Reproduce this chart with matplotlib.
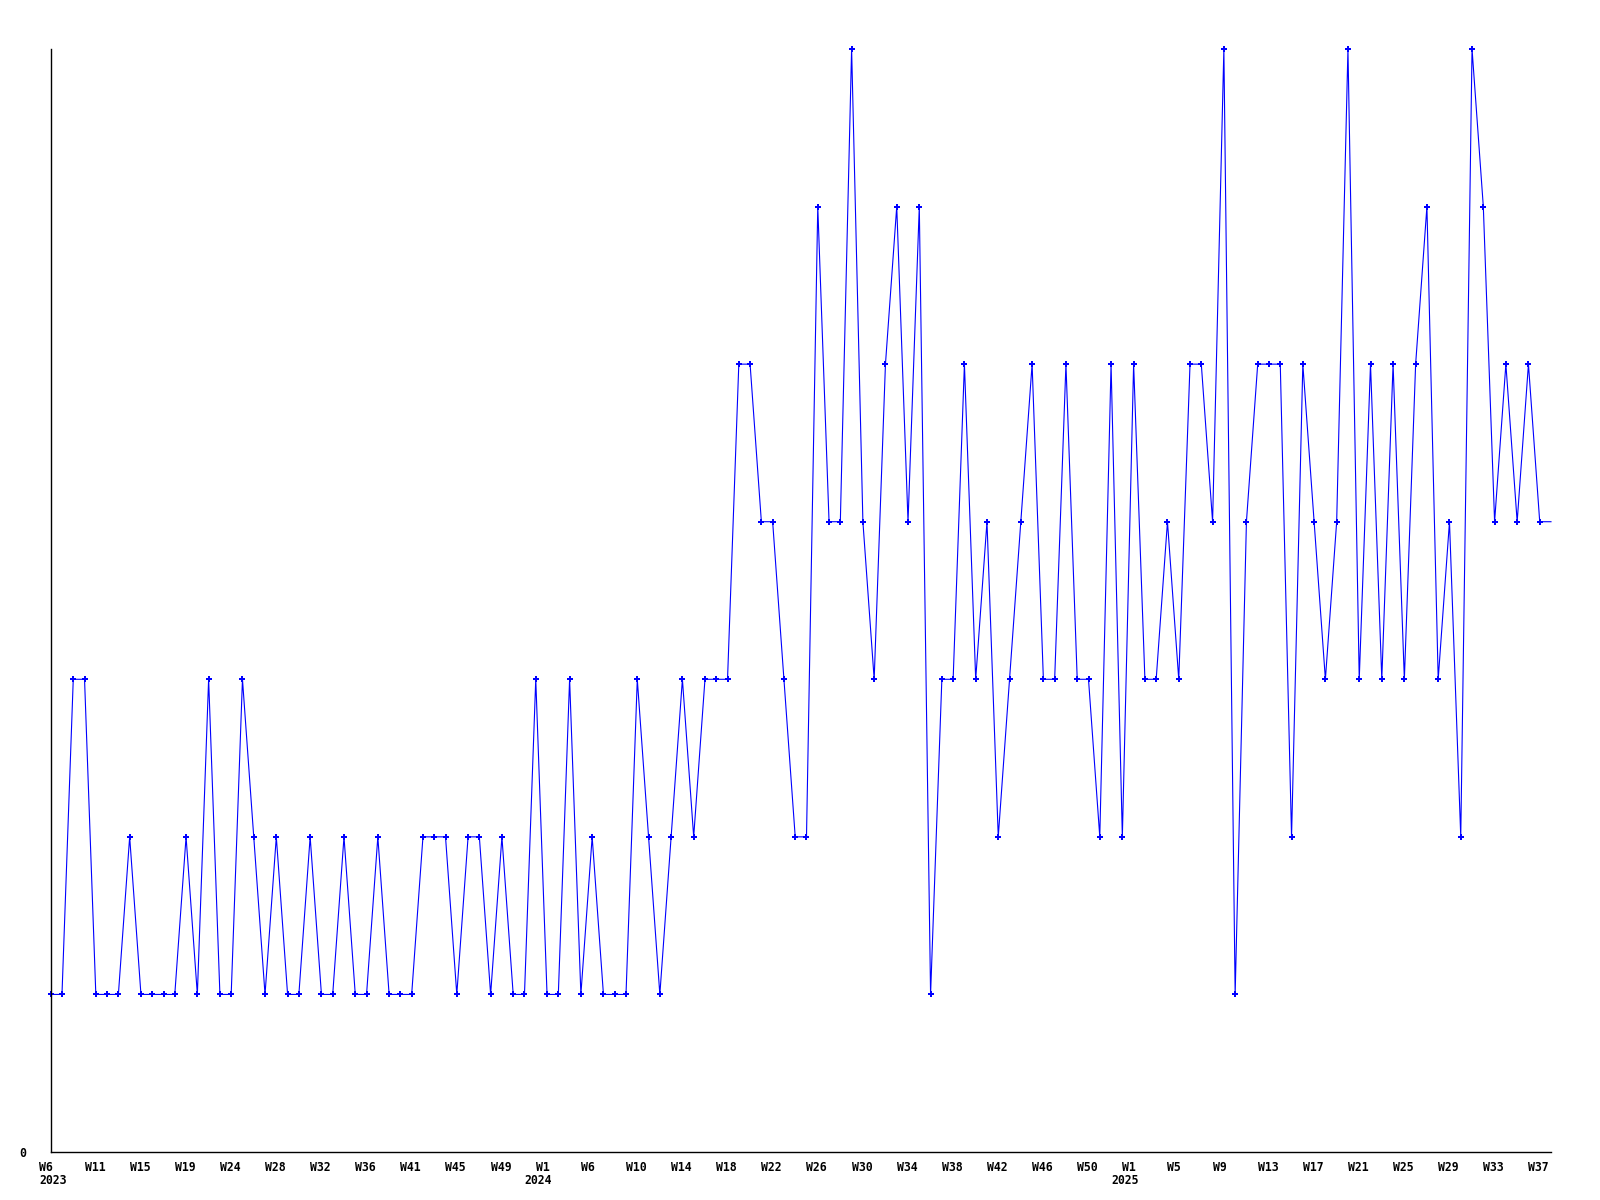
import matplotlib
matplotlib.use("Agg")
import matplotlib.pyplot as plt
import matplotlib.transforms as mtransforms

# weekly counts, 2023 W6 .. 2025 W37, last value is the current (unfinished) week
counts = [1, 1, 3, 3, 1, 1, 1, 2, 1, 1, 1, 1, 2, 1, 3, 1, 1, 3, 2, 1, 2, 1, 1, 2,
          1, 1, 2, 1, 1, 2, 1, 1, 1, 2, 2, 2, 1, 2, 2, 1, 2, 1, 1, 3, 1, 1,
          3, 1, 2, 1, 1, 1, 3, 2, 1, 2, 3, 2, 3, 3, 3,
          5, 5, 4, 4, 3, 2, 2, 6, 4, 4, 7, 4, 3, 5, 6, 4, 6, 1, 3, 3, 5, 3, 4, 2,
          3, 4, 5, 3, 3, 5, 3, 3, 2, 5, 2, 5, 3, 3, 4, 3, 5, 5, 4, 7, 1, 4, 5, 5, 5,
          2, 5, 4, 3, 4, 7, 3, 5, 3, 5, 3, 5, 6, 3, 4, 2, 7, 6, 4, 5, 4, 5, 4,
          4]

# one label every 4th point
week_labels = ["W6", "W11", "W15", "W19", "W24", "W28", "W32", "W36",
               "W41", "W45", "W49",
               "W1", "W6", "W10", "W14", "W18", "W22", "W26", "W30",
               "W34", "W38", "W42", "W46", "W50",
               "W1", "W5", "W9", "W13", "W17", "W21", "W25", "W29",
               "W33", "W37"]
year_labels = ["2023", "2024", "2025"]
label_step = 4

fig = plt.figure(figsize=(16, 12), dpi=100)
ax = fig.add_axes([50.7 / 1600, 48 / 1200, (1551 - 50.7) / 1600, (1152 - 49) / 1200])

x = list(range(len(counts)))
ax.plot(x, counts, color="#0000ff", linewidth=0.8, marker="P", markersize=4,
        markeredgewidth=0, markevery=slice(0, len(counts) - 1), clip_on=False)

ax.set_xlim(0, len(counts) - 1)
ax.set_ylim(0, 7)

for side in ("top", "right"):
    ax.spines[side].set_visible(False)
for side in ("left", "bottom"):
    ax.spines[side].set_linewidth(1.0)
    ax.spines[side].set_color("black")

font = dict(family="DejaVu Sans Mono", weight="bold", size=8.3)

ticks = [i * label_step for i in range(len(week_labels))]
ax.set_xticks(ticks, week_labels, **font)
ax.tick_params(axis="x", which="major", length=0, pad=6.5)

# year shown under the first label and under every W1
ax.xaxis.remove_overlapping_locs = False
year_ticks = [0] + [t for t, w in zip(ticks, week_labels) if w == "W1"]
ax.set_xticks(year_ticks, year_labels, minor=True, **font)
ax.tick_params(axis="x", which="minor", length=0, pad=16)

dpi = fig.dpi
for lbl in ax.get_xticklabels():
    lbl.set_horizontalalignment("left")
    lbl.set_transform(lbl.get_transform() +
                      mtransforms.ScaledTranslation(-11.3 / dpi, 0, fig.dpi_scale_trans))
for k, lbl in enumerate(ax.get_xticklabels(minor=True)):
    shift = -11.3 if k == 0 else -22.6
    lbl.set_horizontalalignment("left")
    lbl.set_transform(lbl.get_transform() +
                      mtransforms.ScaledTranslation(shift / dpi, 0, fig.dpi_scale_trans))

ax.set_yticks([0], ["0"], **font)
ax.tick_params(axis="y", length=0, pad=18)

fig.savefig("out.png", dpi=100, facecolor="white")
